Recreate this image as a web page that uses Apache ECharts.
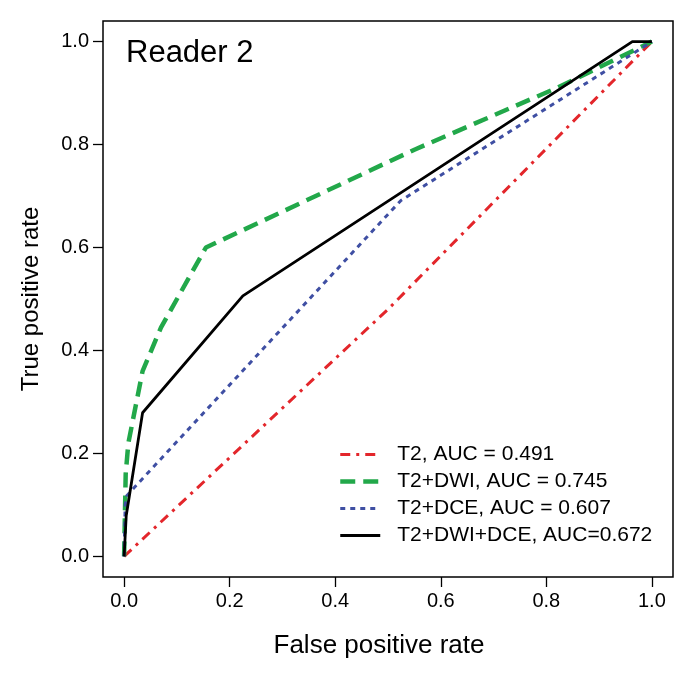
<!DOCTYPE html>
<html>
<head>
<meta charset="utf-8">
<script src="https://cdn.jsdelivr.net/npm/echarts@6/dist/echarts.min.js"></script>
<style>html,body{margin:0;padding:0;background:#fff}#c{width:696px;height:675px}</style>
</head>
<body>
<div id="c"></div>
<script>
// ROC points [false positive rate, true positive rate]
const t2 = [[0, 0], [0.5, 0.48], [1, 1]];
const t2Dwi = [[0, 0], [0.003, 0.16], [0.008, 0.22], [0.035, 0.36], [0.07, 0.445], [0.155, 0.6], [0.55, 0.79], [0.82, 0.91], [0.97, 0.985], [1, 1]];
const t2Dce = [[0, 0], [0.002, 0.1], [0.005, 0.118], [0.524, 0.691], [1, 1]];
const t2DwiDce = [[0, 0], [0.004, 0.079], [0.035, 0.279], [0.225, 0.506], [0.963, 1], [1, 1]];
const seriesNames = ['T2, AUC = 0.491', 'T2+DWI, AUC = 0.745', 'T2+DCE, AUC = 0.607', 'T2+DWI+DCE, AUC=0.672'];
const tickValues = [0, 0.2, 0.4, 0.6, 0.8, 1.0];
const panelTitle = 'Reader 2';
const xTitle = 'False positive rate';
const yTitle = 'True positive rate';

const FONT = '"Liberation Sans", Arial, sans-serif';
const colors = ['#E3262B', '#22A84A', '#3F4FA3', '#000000'];
const styles = [
  {width: 3, type: [10, 6, 3, 6]},
  {width: 4.5, type: [15, 8]},
  {width: 3, type: [5, 5]},
  {width: 2.8, type: 'solid'}
];
const chart = echarts.init(document.getElementById('c'), null, {renderer: 'canvas'});

function axis(name, isX) {
  return {
    type: 'value', min: -0.04, max: 1.04,
    name: name, nameLocation: 'middle',
    nameGap: isX ? 56 : 60,
    nameTextStyle: {fontFamily: FONT, fontSize: isX ? 26 : 24, color: '#000', padding: isX ? [0, 18, 0, 0] : [0, 0, 0, 0]},
    axisLine: {show: false, onZero: false},
    splitLine: {show: false},
    axisTick: {show: true, length: 10, inside: false, customValues: tickValues, lineStyle: {color: '#000', width: 1.3}},
    axisLabel: {show: true, margin: 14, customValues: tickValues, fontFamily: FONT, fontSize: 20, color: '#000',
      formatter: v => v.toFixed(1)}
  };
}

chart.setOption({
  animation: false,
  backgroundColor: '#fff',
  grid: {left: 103, right: 23, top: 21, bottom: 98, show: true, borderColor: '#000', borderWidth: 1.5, backgroundColor: 'transparent'},
  xAxis: axis(xTitle, true),
  yAxis: axis(yTitle, false),
  legend: {
    orient: 'vertical', left: 338, top: 444, padding: 0,
    itemWidth: 40, itemHeight: 14, itemGap: 6,
    itemStyle: {opacity: 0},
    textStyle: {fontFamily: FONT, fontSize: 21, color: '#000', lineHeight: 20, padding: [0, 0, 0, 12]},
    data: seriesNames.map((n, i) => ({name: n, lineStyle: {color: colors[i], width: styles[i].width, type: styles[i].type}}))
  },
  graphic: [{type: 'text', left: 126, top: 38, style: {text: panelTitle, font: '31px ' + FONT, fill: '#000'}}],
  series: seriesNames.map((n, i) => ({
    name: n, type: 'line', data: [t2, t2Dwi, t2Dce, t2DwiDce][i], symbol: 'none', color: colors[i],
    lineStyle: {color: colors[i], width: styles[i].width, type: styles[i].type}
  }))
});
</script>
</body>
</html>
